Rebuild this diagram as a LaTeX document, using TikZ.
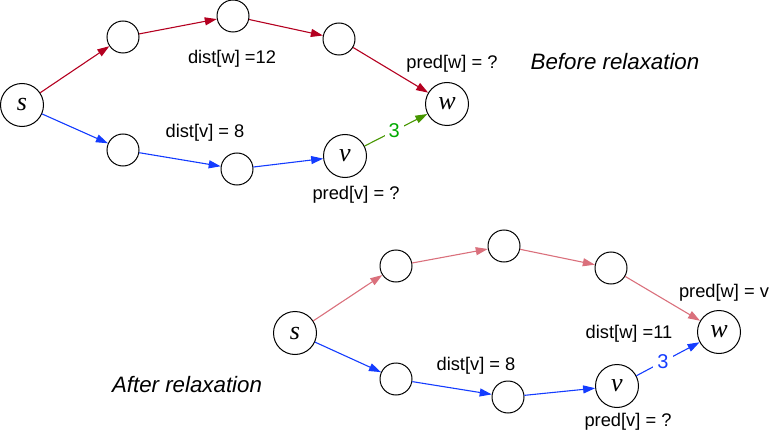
\documentclass[tikz,border=0pt]{standalone}
\usepackage{fontspec}
\setmainfont{Liberation Sans}
\newfontfamily\serifit{Liberation Serif}
\usetikzlibrary{arrows.meta}
\definecolor{dred}{RGB}{180,0,32}
\definecolor{lred}{RGB}{218,112,124}
\definecolor{eblue}{RGB}{20,60,255}
\definecolor{gline}{RGB}{70,150,0}
\definecolor{gtext}{RGB}{0,170,0}
\begin{document}
\begin{tikzpicture}[x=1pt,y=-1pt,
  sm/.style={circle,draw,line width=1pt,minimum size=32pt,inner sep=0pt},
  bg/.style={circle,draw,line width=1pt,minimum size=43pt,inner sep=0pt,font=\serifit\itshape\fontsize{26}{26}\selectfont},
  lab/.style={font=\fontsize{18.3}{20}\selectfont,inner sep=0pt},
  ttl/.style={font=\itshape\fontsize{22.3}{24}\selectfont,inner sep=0pt},
  arr/.style={line width=1.1pt,-{Triangle[length=12pt,width=8pt]}},
  wlab/.style={fill=white,inner sep=4pt,font=\fontsize{20}{20}\selectfont}]
\useasboundingbox (0,0) rectangle (779,433);
% top graph
\node[bg] (s1) at (22,105) {s};
\node[sm] (a1) at (123,37) {};
\node[sm] (b1) at (233,16) {};
\node[sm] (c1) at (339,39) {};
\node[bg] (w1) at (447,104) {w};
\node[sm] (d1) at (123,150) {};
\node[sm] (e1) at (237,169) {};
\node[bg] (v1) at (345,156) {v};
\draw[arr,dred] (s1) -- (a1);
\draw[arr,dred] (a1) -- (b1);
\draw[arr,dred] (b1) -- (c1);
\draw[arr,dred] (c1) -- (w1);
\draw[arr,eblue] (s1) -- (d1);
\draw[arr,eblue] (d1) -- (e1);
\draw[arr,eblue] (e1) -- (v1);
\draw[arr,gline] (v1) -- node[wlab,text=gtext,pos=0.47] (g1) {3} (w1);
\node[lab] (l1) at (232,59) {dist[w] =12};
\node[lab] (l2) at (205,133) {dist[v] = 8};
\node[lab] (l3) at (356,195) {pred[v] = ?};
\node[lab] (l4) at (452,64) {pred[w] = ?};
\node[ttl] (t1) at (615,62) {Before relaxation};
% bottom graph
\node[bg] (s2) at (295,333) {s};
\node[sm] (a2) at (396,266) {};
\node[sm] (b2) at (504,246) {};
\node[sm] (c2) at (611,268) {};
\node[bg] (w2) at (719,332) {w};
\node[sm] (d2) at (396,379) {};
\node[sm] (e2) at (508,397) {};
\node[bg] (v2) at (617,386) {v};
\draw[arr,lred] (s2) -- (a2);
\draw[arr,lred] (a2) -- (b2);
\draw[arr,lred] (b2) -- (c2);
\draw[arr,lred] (c2) -- (w2);
\draw[arr,eblue] (s2) -- (d2);
\draw[arr,eblue] (d2) -- (e2);
\draw[arr,eblue] (e2) -- (v2);
\draw[arr,eblue] (v2) -- node[wlab,text=eblue,pos=0.42] (g2) {3} (w2);
\node[lab] (m1) at (724,293) {pred[w] = v};
\node[lab] (m2) at (629,334) {dist[w] =11};
\node[lab] (m3) at (476,366) {dist[v] = 8};
\node[lab] (m4) at (628,422) {pred[v] = ?};
\node[ttl] (t2) at (187,385) {After relaxation};
\end{tikzpicture}
\end{document}
